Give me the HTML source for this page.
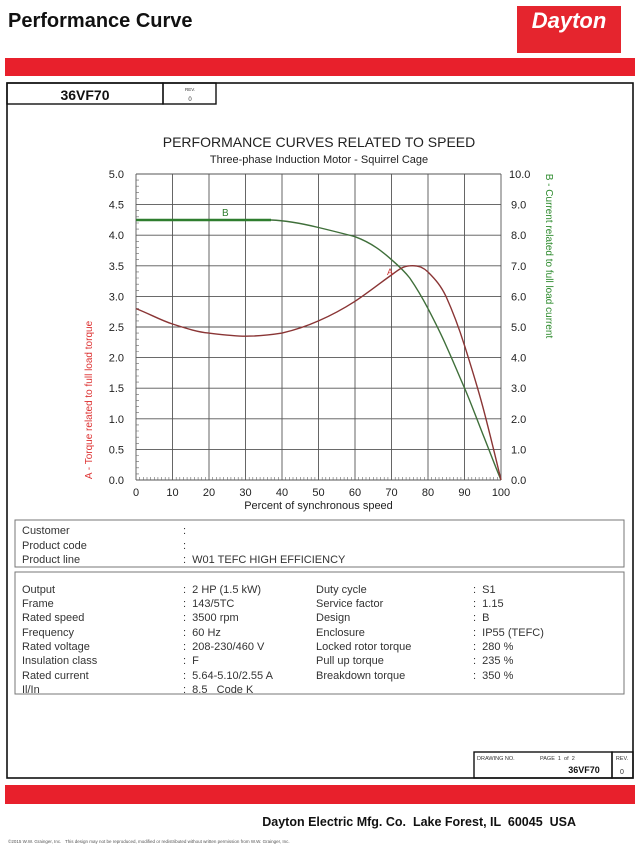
<!DOCTYPE html>
<html><head><meta charset="utf-8"><style>
html,body{margin:0;padding:0;background:#fff;}
svg{display:block;font-family:"Liberation Sans",Arial,sans-serif;}
text{white-space:pre;}
</style></head><body>
<svg width="640" height="850" viewBox="0 0 640 850" xmlns="http://www.w3.org/2000/svg">
<text x="8" y="27" font-size="20" font-weight="bold" fill="#111">Performance Curve</text>
<rect x="517" y="6" width="104" height="47" fill="#e5252e"/>
<text x="569" y="28" font-size="22" font-weight="bold" font-style="italic" fill="#fff" text-anchor="middle">Dayton</text>
<rect x="5" y="58" width="630" height="18" fill="#e8202c"/>
<rect x="7" y="83" width="626" height="695" fill="none" stroke="#111" stroke-width="1.6"/>
<rect x="7" y="83" width="156" height="21" fill="none" stroke="#111" stroke-width="1.4"/>
<rect x="163" y="83" width="53" height="21" fill="none" stroke="#111" stroke-width="1.4"/>
<text x="85" y="100" font-size="14" font-weight="bold" text-anchor="middle" fill="#111">36VF70</text>
<text x="190" y="91" font-size="4.5" text-anchor="middle" fill="#333">REV.</text>
<text x="190" y="101" font-size="6" text-anchor="middle" fill="#333">0</text>
<text x="319" y="147" font-size="14" text-anchor="middle" fill="#222">PERFORMANCE CURVES RELATED TO SPEED</text>
<text x="319" y="163" font-size="11" text-anchor="middle" fill="#222">Three-phase Induction Motor - Squirrel Cage</text>
<g stroke="#555" stroke-width="0.9">
<line x1="136" y1="174" x2="136" y2="480"/><line x1="172.5" y1="174" x2="172.5" y2="480"/><line x1="209" y1="174" x2="209" y2="480"/><line x1="245.5" y1="174" x2="245.5" y2="480"/><line x1="282" y1="174" x2="282" y2="480"/><line x1="318.5" y1="174" x2="318.5" y2="480"/><line x1="355" y1="174" x2="355" y2="480"/><line x1="391.5" y1="174" x2="391.5" y2="480"/><line x1="428" y1="174" x2="428" y2="480"/><line x1="464.5" y1="174" x2="464.5" y2="480"/><line x1="501" y1="174" x2="501" y2="480"/>
<line x1="136" y1="174" x2="501" y2="174"/><line x1="136" y1="204.6" x2="501" y2="204.6"/><line x1="136" y1="235.2" x2="501" y2="235.2"/><line x1="136" y1="265.8" x2="501" y2="265.8"/><line x1="136" y1="296.4" x2="501" y2="296.4"/><line x1="136" y1="327" x2="501" y2="327"/><line x1="136" y1="357.6" x2="501" y2="357.6"/><line x1="136" y1="388.2" x2="501" y2="388.2"/><line x1="136" y1="418.8" x2="501" y2="418.8"/><line x1="136" y1="449.4" x2="501" y2="449.4"/><line x1="136" y1="480" x2="501" y2="480"/>
</g>
<g stroke="#666" stroke-width="0.6">
<path d="M136 180.1h3M136 186.2h3M136 192.4h3M136 198.5h3M136 210.7h3M136 216.8h3M136 223h3M136 229.1h3M136 241.3h3M136 247.4h3M136 253.6h3M136 259.7h3M136 271.9h3M136 278h3M136 284.2h3M136 290.3h3M136 302.5h3M136 308.6h3M136 314.8h3M136 320.9h3M136 333.1h3M136 339.2h3M136 345.4h3M136 351.5h3M136 363.7h3M136 369.8h3M136 376h3M136 382.1h3M136 394.3h3M136 400.4h3M136 406.6h3M136 412.7h3M136 424.9h3M136 431h3M136 437.2h3M136 443.3h3M136 455.5h3M136 461.6h3M136 467.8h3M136 473.9h3"/>
<path d="M139.7 480v-3M143.3 480v-3M147 480v-3M150.6 480v-3M154.3 480v-3M157.9 480v-3M161.6 480v-3M165.2 480v-3M168.9 480v-3M176.2 480v-3M179.8 480v-3M183.5 480v-3M187.1 480v-3M190.8 480v-3M194.4 480v-3M198.1 480v-3M201.7 480v-3M205.4 480v-3M212.7 480v-3M216.3 480v-3M220 480v-3M223.6 480v-3M227.3 480v-3M230.9 480v-3M234.6 480v-3M238.2 480v-3M241.9 480v-3M249.2 480v-3M252.8 480v-3M256.5 480v-3M260.1 480v-3M263.8 480v-3M267.4 480v-3M271.1 480v-3M274.7 480v-3M278.4 480v-3M285.7 480v-3M289.3 480v-3M293 480v-3M296.6 480v-3M300.3 480v-3M303.9 480v-3M307.6 480v-3M311.2 480v-3M314.9 480v-3M322.2 480v-3M325.8 480v-3M329.5 480v-3M333.1 480v-3M336.8 480v-3M340.4 480v-3M344.1 480v-3M347.7 480v-3M351.4 480v-3M358.7 480v-3M362.3 480v-3M366 480v-3M369.6 480v-3M373.3 480v-3M376.9 480v-3M380.6 480v-3M384.2 480v-3M387.9 480v-3M395.2 480v-3M398.8 480v-3M402.5 480v-3M406.1 480v-3M409.8 480v-3M413.4 480v-3M417.1 480v-3M420.7 480v-3M424.4 480v-3M431.7 480v-3M435.3 480v-3M439 480v-3M442.6 480v-3M446.3 480v-3M449.9 480v-3M453.6 480v-3M457.2 480v-3M460.9 480v-3M468.2 480v-3M471.8 480v-3M475.5 480v-3M479.1 480v-3M482.8 480v-3M486.4 480v-3M490.1 480v-3M493.7 480v-3M497.4 480v-3"/>
</g>
<path d="M136 220 L271 220 C285 220.5 300 223 318.5 227.5 C335 231.5 345 234 355 236.7 C372 243 383 252 391.5 259.7 C400 267 405 272 409.75 278 C418 290 423 299 428 308.6 C436 324 441 334 446 345.4 C453 361 458 373 464.5 388 C471 403 476 417 482.75 434 C490 452 495 466 501 480" fill="none" stroke="#3f6f3a" stroke-width="1.4"/>
<path d="M136 220 L271 220" stroke="#2e7d2e" stroke-width="2.4"/>
<path d="M136 308.6 C150 314 160 320 172.5 324 C188 329 198 332 209 333.1 C225 335 235 336.2 245.5 336.2 C258 336.2 270 335 282 333.1 C295 330 307 326 318.5 320.9 C332 315 343 309 355 301.3 C369 292 380 283 391.5 275 C398 270 403 266 409.75 265.8 C414 265.5 418 266 420.7 267 C424 268.5 426 270 428 272 C436 280 441 286 446 296.4 C453 312 459 328 464.5 345.4 C471 366 477 385 482.75 406.6 C489 430 495 455 501 480" fill="none" stroke="#8a3535" stroke-width="1.4"/>
<text x="222" y="216" font-size="10" fill="#2e7d2e">B</text>
<text x="387" y="275" font-size="9" fill="#c33">A</text>
<g font-size="11" fill="#222" text-anchor="end">
<text x="124" y="178">5.0</text><text x="124" y="208.6">4.5</text><text x="124" y="239.2">4.0</text><text x="124" y="269.8">3.5</text><text x="124" y="300.4">3.0</text><text x="124" y="331">2.5</text><text x="124" y="361.6">2.0</text><text x="124" y="392.2">1.5</text><text x="124" y="422.8">1.0</text><text x="124" y="453.4">0.5</text><text x="124" y="484">0.0</text>
</g>
<g font-size="11" fill="#222">
<text x="509" y="178">10.0</text><text x="511" y="208.6">9.0</text><text x="511" y="239.2">8.0</text><text x="511" y="269.8">7.0</text><text x="511" y="300.4">6.0</text><text x="511" y="331">5.0</text><text x="511" y="361.6">4.0</text><text x="511" y="392.2">3.0</text><text x="511" y="422.8">2.0</text><text x="511" y="453.4">1.0</text><text x="511" y="484">0.0</text>
</g>
<g font-size="11" fill="#222" text-anchor="middle">
<text x="136" y="496">0</text><text x="172.5" y="496">10</text><text x="209" y="496">20</text><text x="245.5" y="496">30</text><text x="282" y="496">40</text><text x="318.5" y="496">50</text><text x="355" y="496">60</text><text x="391.5" y="496">70</text><text x="428" y="496">80</text><text x="464.5" y="496">90</text><text x="501" y="496">100</text>
<text x="318.5" y="509">Percent of synchronous speed</text>
</g>
<text transform="translate(92,400) rotate(-90)" font-size="10" fill="#d33" text-anchor="middle">A - Torque related to full load torque</text>
<text transform="translate(546,256) rotate(90)" font-size="10" fill="#2e8b2e" text-anchor="middle">B - Current related to full load current</text>
<rect x="15" y="520" width="609" height="47" fill="none" stroke="#777" stroke-width="1"/>
<rect x="15" y="572" width="609" height="122" fill="none" stroke="#777" stroke-width="1"/>
<g font-size="11" fill="#333">
<text x="22" y="534">Customer</text><text x="183" y="534">:</text>
<text x="22" y="549">Product code</text><text x="183" y="549">:</text>
<text x="22" y="563">Product line</text><text x="183" y="563">:  W01 TEFC HIGH EFFICIENCY</text>
<text x="22" y="593">Output</text><text x="183" y="593">:  2 HP (1.5 kW)</text>
<text x="22" y="607">Frame</text><text x="183" y="607">:  143/5TC</text>
<text x="22" y="621">Rated speed</text><text x="183" y="621">:  3500 rpm</text>
<text x="22" y="636">Frequency</text><text x="183" y="636">:  60 Hz</text>
<text x="22" y="650">Rated voltage</text><text x="183" y="650">:  208-230/460 V</text>
<text x="22" y="664">Insulation class</text><text x="183" y="664">:  F</text>
<text x="22" y="679">Rated current</text><text x="183" y="679">:  5.64-5.10/2.55 A</text>
<text x="22" y="693">Il/In</text><text x="183" y="693">:  8.5   Code K</text>
<text x="316" y="593">Duty cycle</text><text x="473" y="593">:  S1</text>
<text x="316" y="607">Service factor</text><text x="473" y="607">:  1.15</text>
<text x="316" y="621">Design</text><text x="473" y="621">:  B</text>
<text x="316" y="636">Enclosure</text><text x="473" y="636">:  IP55 (TEFC)</text>
<text x="316" y="650">Locked rotor torque</text><text x="473" y="650">:  280 %</text>
<text x="316" y="664">Pull up torque</text><text x="473" y="664">:  235 %</text>
<text x="316" y="679">Breakdown torque</text><text x="473" y="679">:  350 %</text>
</g>
<rect x="474" y="752" width="138" height="26" fill="none" stroke="#111" stroke-width="1.4"/>
<rect x="612" y="752" width="21" height="26" fill="none" stroke="#111" stroke-width="1.4"/>
<text x="477" y="760" font-size="5.5" fill="#333">DRAWING NO.</text>
<text x="540" y="760" font-size="5.5" fill="#333">PAGE  1  of  2</text>
<text x="584" y="773" font-size="9" font-weight="bold" text-anchor="middle" fill="#111">36VF70</text>
<text x="622" y="760" font-size="5.5" text-anchor="middle" fill="#333">REV.</text>
<text x="622" y="774" font-size="7" text-anchor="middle" fill="#333">0</text>
<rect x="5" y="785" width="630" height="19" fill="#e8202c"/>
<text x="576" y="826" font-size="12.5" font-weight="bold" text-anchor="end" fill="#111">Dayton Electric Mfg. Co.  Lake Forest, IL  60045  USA</text>
<text x="8" y="843" font-size="4.5" fill="#555">©2015 W.W. Grainger, Inc.   This design may not be reproduced, modified or redistributed without written permission from W.W. Grainger, Inc.</text>
</svg>
</body></html>
